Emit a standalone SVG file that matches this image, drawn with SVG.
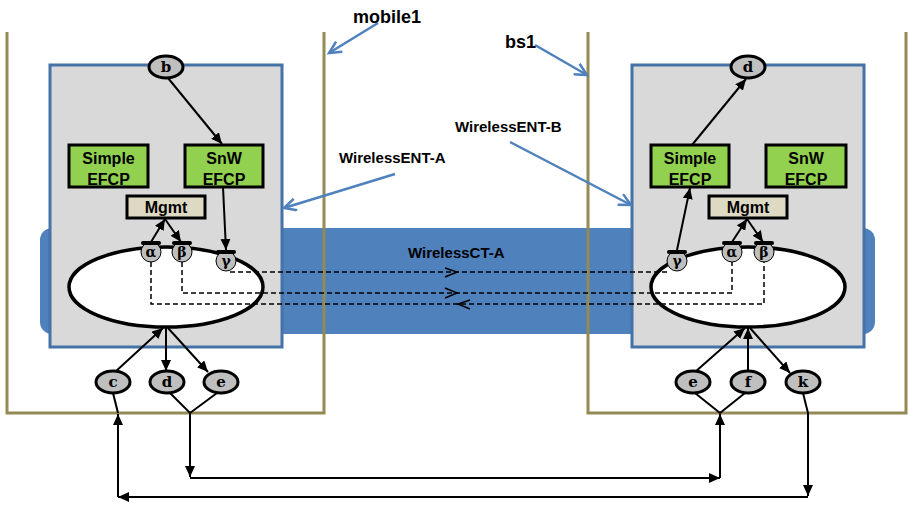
<svg xmlns="http://www.w3.org/2000/svg" width="909" height="506" viewBox="0 0 909 506">
<defs>
<marker id="ah" markerUnits="userSpaceOnUse" markerWidth="12" markerHeight="10" refX="11" refY="5" orient="auto"><path d="M0,0 L11,5 L0,10 z" fill="#000"/></marker>
<marker id="ba" markerUnits="userSpaceOnUse" markerWidth="16" markerHeight="14" refX="13" refY="7" orient="auto"><path d="M1,1 L13,7 L1,13" fill="none" stroke="#4F81BD" stroke-width="2.5"/></marker>
<style>
.olive{fill:none;stroke:#948A54;stroke-width:3}
.box{fill:#D9D9D9;stroke:#4572A7;stroke-width:3}
.efcp{fill:#92D050;stroke:#000;stroke-width:3}
.mg{fill:#DDD9C3;stroke:#000;stroke-width:3}
.ell{fill:#fff;stroke:#000;stroke-width:3.5}
.nd{fill:#BFBFBF;stroke:#000;stroke-width:3}
.sm{fill:#BFBFBF;stroke:#000;stroke-width:1}
.lid{fill:#000}
.c{fill:none;stroke:#000;stroke-width:2}
.a{marker-end:url(#ah)}
.d{fill:none;stroke:#000;stroke-width:1.5;stroke-dasharray:5,3}
.ch{fill:none;stroke:#000;stroke-width:1.5}
.bl{fill:none;stroke:#4F81BD;stroke-width:2.5;marker-end:url(#ba)}
.t{font-family:"Liberation Sans",Arial,sans-serif;font-weight:bold;fill:#000}
.s{font-family:"DejaVu Serif",serif;font-weight:bold;font-size:15px;text-anchor:middle;fill:#000}
.g{font-size:14px}
.m{text-anchor:middle;font-size:16px}
</style>
</defs>
<rect id="wirelessCT" x="40" y="228" width="835" height="106" rx="12" fill="#4F81BD"/>
<g id="mobile1"><path class="olive" d="M7,32 V413 H324 V32"/></g>
<g id="bs1"><path class="olive" d="M588,32 V413 H906 V32"/></g>
<g id="wirelessENT-A"><rect class="box" x="50" y="65" width="232" height="282"/></g>
<g id="wirelessENT-B"><rect class="box" x="632" y="65" width="232" height="282"/></g>
<g id="ellipseA"><ellipse class="ell" cx="166" cy="287" rx="97" ry="40"/></g>
<g id="ellipseB"><ellipse class="ell" cx="748" cy="287" rx="97" ry="40"/></g>
<g id="simpleA"><rect class="efcp" x="69" y="145" width="79" height="42"/><text class="t m" x="108.5" y="164">Simple</text><text class="t m" x="108.5" y="185">EFCP</text></g>
<g id="snwA"><rect class="efcp" x="185" y="145" width="78" height="42"/><text class="t m" x="224" y="164">SnW</text><text class="t m" x="224" y="185">EFCP</text></g>
<g id="mgmtA"><rect class="mg" x="127" y="196" width="78" height="22"/><text class="t m" x="166" y="213">Mgmt</text></g>
<g id="simpleB"><rect class="efcp" x="651" y="145" width="78" height="42"/><text class="t m" x="690" y="164">Simple</text><text class="t m" x="690" y="185">EFCP</text></g>
<g id="snwB"><rect class="efcp" x="766" y="145" width="80" height="42"/><text class="t m" x="806" y="164">SnW</text><text class="t m" x="806" y="185">EFCP</text></g>
<g id="mgmtB"><rect class="mg" x="709" y="196" width="78" height="22"/><text class="t m" x="748" y="213">Mgmt</text></g>
<g id="connectors">
<line class="c a" x1="168" y1="78" x2="222" y2="144"/>
<line class="c a" x1="223" y1="187" x2="226" y2="250"/>
<line class="c a" x1="151" y1="242" x2="165" y2="219"/>
<line class="c a" x1="165" y1="219" x2="181" y2="242"/>
<line class="c a" x1="677" y1="250" x2="690" y2="188"/>
<line class="c a" x1="692" y1="145" x2="746" y2="79"/>
<line class="c a" x1="732" y1="242" x2="747" y2="219"/>
<line class="c a" x1="747" y1="219" x2="763" y2="242"/>
<line class="c a" x1="115" y1="372" x2="163" y2="328"/>
<line class="c a" x1="166" y1="328" x2="166" y2="371"/>
<line class="c a" x1="168" y1="328" x2="208" y2="372"/>
<line class="c a" x1="695" y1="372" x2="745" y2="328"/>
<line class="c a" x1="748" y1="371" x2="748" y2="328"/>
<line class="c a" x1="750" y1="328" x2="790" y2="373"/>
<polyline class="c" points="170,393 190,413 217,393"/>
<line class="c a" x1="190" y1="413" x2="190" y2="477"/>
<line class="c a" x1="190" y1="478" x2="720" y2="478"/>
<line class="c a" x1="720" y1="478" x2="720" y2="414"/>
<polyline class="c" points="695,393 720,413 745,393"/>
<line class="c" x1="113" y1="393" x2="118" y2="413"/>
<line class="c a" x1="118" y1="497" x2="118" y2="414"/>
<line class="c a" x1="808" y1="497" x2="118" y2="497"/>
<polyline class="c a" points="803,393 808,413 808,496"/>
<path class="d" d="M230,272 H670"/>
<path class="d" d="M182,262 V293 H732 V262"/>
<path class="d" d="M151,262 V304 H764 V262"/>
<polyline class="ch" points="445,268 457,272 445,277"/>
<polyline class="ch" points="445,288 457,293 445,298"/>
<polyline class="ch" points="470,300 458,304 470,309"/>
<line class="bl" x1="378" y1="23" x2="329" y2="53"/>
<line class="bl" x1="535" y1="45" x2="587" y2="75"/>
<line class="bl" x1="510" y1="142" x2="631" y2="205"/>
<line class="bl" x1="395" y1="174" x2="284" y2="208"/>
</g>
<g id="alphaA"><circle class="sm" cx="151" cy="252" r="10"/><rect class="lid" x="141" y="241" width="20" height="4" rx="2"/><text class="s g" x="151" y="257">α</text></g>
<g id="betaA"><circle class="sm" cx="182" cy="252" r="10"/><rect class="lid" x="172" y="241" width="20" height="4" rx="2"/><text class="s g" x="182" y="257">β</text></g>
<g id="gammaA"><circle class="sm" cx="226" cy="261" r="10"/><rect class="lid" x="216" y="250" width="20" height="4" rx="2"/><text class="s g" x="226" y="266">γ</text></g>
<g id="gammaB"><circle class="sm" cx="677" cy="261" r="10"/><rect class="lid" x="667" y="250" width="20" height="4" rx="2"/><text class="s g" x="677" y="266">γ</text></g>
<g id="alphaB"><circle class="sm" cx="732" cy="252" r="10"/><rect class="lid" x="722" y="241" width="20" height="4" rx="2"/><text class="s g" x="732" y="257">α</text></g>
<g id="betaB"><circle class="sm" cx="764" cy="252" r="10"/><rect class="lid" x="754" y="241" width="20" height="4" rx="2"/><text class="s g" x="764" y="257">β</text></g>
<g id="nodeB"><ellipse class="nd" cx="166" cy="67" rx="17" ry="11"/><text class="s" x="166" y="72">b</text></g>
<g id="nodeDtop"><ellipse class="nd" cx="748" cy="67" rx="17" ry="11"/><text class="s" x="748" y="72">d</text></g>
<g id="nodeC"><ellipse class="nd" cx="113" cy="382" rx="17" ry="11"/><text class="s" x="113" y="387">c</text></g>
<g id="nodeD"><ellipse class="nd" cx="167" cy="382" rx="17" ry="11"/><text class="s" x="167" y="387">d</text></g>
<g id="nodeEA"><ellipse class="nd" cx="221" cy="382" rx="17" ry="11"/><text class="s" x="221" y="387">e</text></g>
<g id="nodeEB"><ellipse class="nd" cx="693" cy="382" rx="17" ry="11"/><text class="s" x="693" y="387">e</text></g>
<g id="nodeF"><ellipse class="nd" cx="748" cy="382" rx="17" ry="11"/><text class="s" x="748" y="387">f</text></g>
<g id="nodeK"><ellipse class="nd" cx="803" cy="382" rx="17" ry="11"/><text class="s" x="803" y="387">k</text></g>
<g id="labels">
<text class="t" x="353" y="23" font-size="18">mobile1</text>
<text class="t" x="505" y="48" font-size="18">bs1</text>
<text class="t" x="455" y="132" font-size="15">WirelessENT-B</text>
<text class="t" x="339" y="163" font-size="15">WirelessENT-A</text>
<text class="t" x="408" y="258" font-size="15" fill="#1a1a1a">WirelessCT-A</text>
</g>
</svg>
